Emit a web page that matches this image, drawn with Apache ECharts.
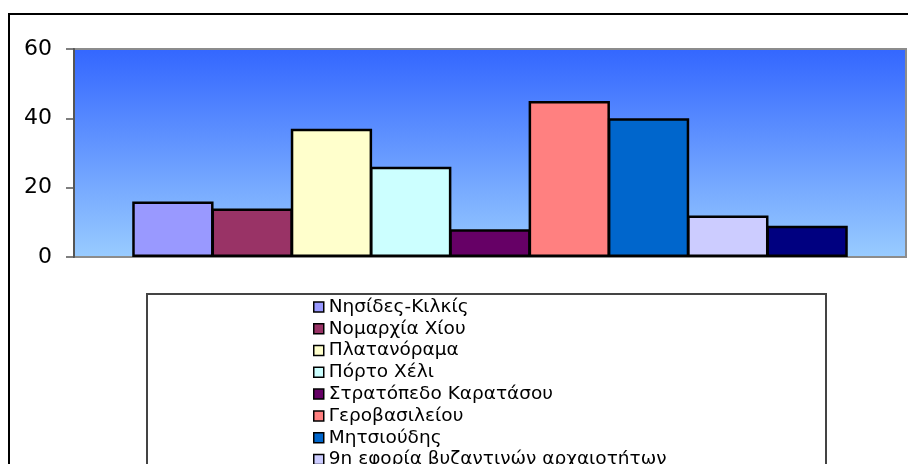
<!DOCTYPE html>
<html>
<head>
<meta charset="utf-8">
<script src="https://cdn.jsdelivr.net/npm/echarts@6/dist/echarts.min.js"></script>
<style>
  html, body { margin: 0; padding: 0; background: #ffffff; }
  #chart { width: 908px; height: 464px; }
</style>
</head>
<body>
<div id="chart"></div>
<script>
// Sites (one series each) and their counts
const sites = [
  'Νησίδες-Κιλκίς',
  'Νομαρχία Χίου',
  'Πλατανόραμα',
  'Πόρτο Χέλι',
  'Στρατόπεδο Καρατάσου',
  'Γεροβασιλείου',
  'Μητσιούδης',
  '9η εφορία βυζαντινών αρχαιοτήτων',
  'Λαδάδικα'
];
const counts = [16, 14, 37, 26, 8, 45, 40, 12, 9];
const yTicks = [0, 20, 40, 60];

// Classic spreadsheet palette
const palette = ['#9999FF', '#993366', '#FFFFCC', '#CCFFFF', '#660066',
                 '#FF8080', '#0066CC', '#CCCCFF', '#000080'];

const FONT = '"DejaVu Sans", Arial, sans-serif';

const chart = echarts.init(document.getElementById('chart'), null, { renderer: 'canvas' });

// Neighbouring bars overlap slightly so they share a single black edge
const series = sites.map((name, i) => ({
  name: name,
  type: 'bar',
  data: [counts[i]],
  barGap: '-2.5%',
  barCategoryGap: '14%',
  itemStyle: { color: palette[i], borderColor: '#000000', borderWidth: 2.5 },
  emphasis: { disabled: true },
  animation: false
}));

chart.setOption({
  animation: false,
  backgroundColor: '#ffffff',
  grid: {
    left: 74, top: 49, right: 2, bottom: 207,
    show: true,
    borderColor: '#8c8c8c',
    borderWidth: 2,
    backgroundColor: new echarts.graphic.LinearGradient(0, 0, 0, 1, [
      { offset: 0, color: '#3366FF' },
      { offset: 1, color: '#99CCFF' }
    ])
  },
  xAxis: {
    type: 'category',
    data: [''],
    axisLine: { show: false },
    axisTick: { show: false },
    axisLabel: { show: false },
    splitLine: { show: false }
  },
  yAxis: {
    type: 'value',
    min: yTicks[0],
    max: yTicks[yTicks.length - 1],
    interval: yTicks[1] - yTicks[0],
    axisLine: { show: true, lineStyle: { color: '#555555', width: 2 } },
    axisTick: { show: true, inside: false, length: 8, lineStyle: { color: '#555555', width: 1.5 } },
    axisLabel: { color: '#000000', fontSize: 22, fontFamily: FONT, margin: 22 },
    splitLine: { show: false }
  },
  legend: {
    orient: 'vertical',
    left: 313,
    top: 296,
    height: 600,
    padding: 0,
    itemGap: 0,
    itemWidth: 10,
    itemHeight: 10,
    icon: 'rect',
    itemStyle: { borderColor: '#000000', borderWidth: 1.5 },
    textStyle: { color: '#000000', fontSize: 18.5, fontFamily: FONT, lineHeight: 21.8 },
    selectedMode: false,
    data: sites
  },
  graphic: [
    {
      type: 'rect',
      silent: true,
      z: -1,
      shape: { x: 9, y: 14, width: 1000, height: 1000 },
      style: { fill: 'none', stroke: '#000000', lineWidth: 2 }
    },
    {
      type: 'rect',
      silent: true,
      z: -1,
      shape: { x: 147, y: 294, width: 679, height: 400 },
      style: { fill: '#ffffff', stroke: '#444444', lineWidth: 2 }
    }
  ],
  series: series
});
</script>
</body>
</html>
